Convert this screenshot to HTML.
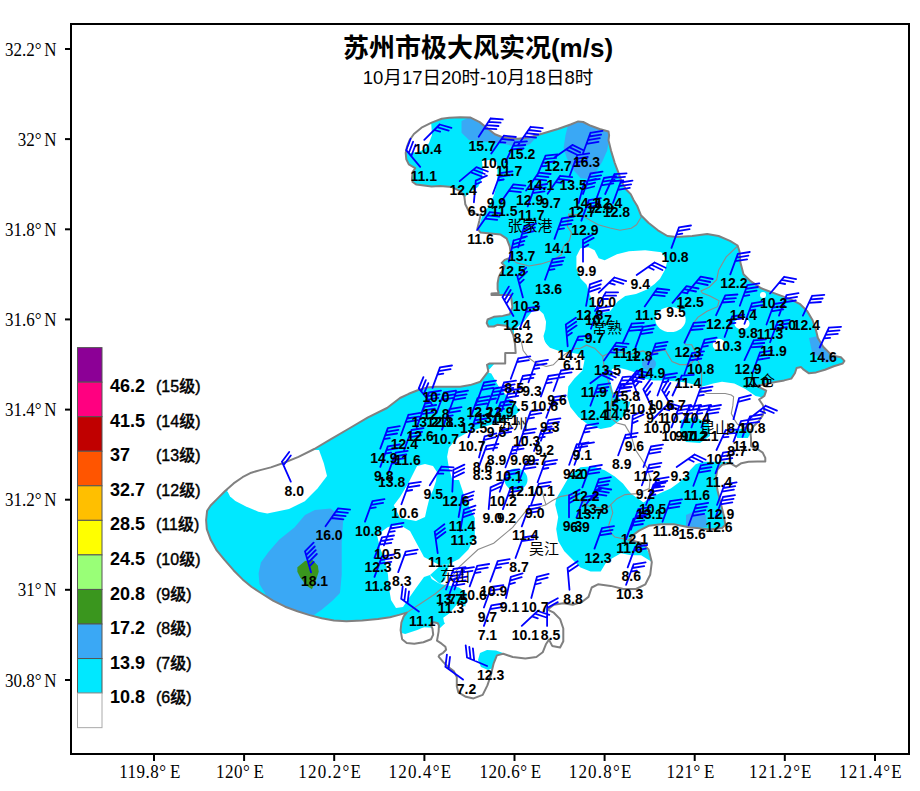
<!DOCTYPE html>
<html><head><meta charset="utf-8"><title>苏州市极大风实况</title>
<style>
html,body{margin:0;padding:0;background:#fff;width:920px;height:791px;overflow:hidden}
svg{display:block}
.ax{font-family:"Liberation Serif","Noto Serif CJK SC",serif;font-size:17px;fill:#000;word-spacing:-1.5px}
.axx{letter-spacing:0.5px}
.t1{font-family:"Liberation Sans","Noto Sans CJK SC",sans-serif;font-size:26px;font-weight:bold;fill:#000}
.t2{font-family:"Liberation Sans","Noto Sans CJK SC",sans-serif;font-size:18.5px;fill:#000}
.lg{font-family:"Liberation Sans","Noto Sans CJK SC",sans-serif;font-size:18px;font-weight:bold;fill:#000}
.lg2{font-family:"Liberation Sans","Noto Sans CJK SC",sans-serif;font-size:16px;font-weight:500;fill:#000;stroke:#000;stroke-width:0.4px}
.v{font-family:"Liberation Sans",sans-serif;font-size:14px;font-weight:bold;fill:#000}
.cn{font-family:"Liberation Sans","Noto Sans CJK SC",sans-serif;font-size:15px;font-weight:400;fill:#000}
</style></head><body>
<svg width="920" height="791" viewBox="0 0 920 791"><defs><clipPath id="cl"><path d="M441.7,118.8 L449.3,117.8 L460.0,117.3 L470.6,117.6 L479.7,122.1 L487.3,128.2 L494.9,134.3 L502.5,137.3 L510.0,138.0 L517.7,138.8 L525.2,138.0 L532.6,136.5 L545.3,132.8 L557.9,129.0 L570.6,124.5 L578.2,121.4 L583.2,122.0 L590.8,125.8 L599.6,129.0 L608.5,131.5 L609.1,135.3 L608.5,140.3 L611.0,150.5 L614.8,163.1 L618.6,173.2 L621.6,181.9 L626.1,189.5 L630.7,194.1 L633.7,200.2 L637.1,205.7 L640.9,215.2 L648.4,222.8 L657.9,230.3 L667.4,236.0 L676.9,237.0 L692.1,236.0 L707.2,234.1 L718.6,236.0 L730.0,240.8 L737.6,245.5 L739.5,251.2 L740.4,262.6 L743.5,274.2 L750.6,281.2 L761.2,288.3 L775.4,293.6 L789.6,298.9 L800.2,304.2 L807.3,311.3 L812.6,320.2 L816.1,330.8 L817.9,337.9 L823.2,346.7 L832.0,355.6 L840.9,357.3 L844.4,360.9 L842.7,363.5 L833.8,366.2 L825.0,369.7 L816.1,372.4 L809.0,373.3 L803.7,369.7 L801.1,367.1 L796.6,368.0 L794.9,373.3 L791.3,378.6 L784.2,380.4 L775.4,382.1 L766.5,383.9 L757.7,385.7 L759.1,387.1 L766.2,390.6 L764.4,395.9 L759.1,399.5 L762.7,404.8 L764.4,410.1 L762.7,415.4 L759.1,420.7 L753.8,426.0 L750.3,431.3 L751.0,438.4 L751.0,446.0 L757.3,449.0 L762.7,452.6 L765.3,457.9 L765.3,461.4 L757.3,461.4 L748.5,461.8 L741.4,463.2 L736.1,466.7 L730.1,463.2 L722.2,464.8 L717.4,469.6 L715.9,477.5 L717.4,490.1 L720.6,502.7 L723.8,515.4 L725.3,524.9 L722.2,528.0 L709.5,529.6 L696.9,528.0 L690.0,527.4 L673.9,524.2 L661.2,524.2 L648.6,525.8 L639.1,530.6 L632.8,535.3 L629.6,540.0 L642.3,543.2 L648.6,549.5 L651.8,562.2 L650.2,574.8 L645.4,584.3 L636.0,589.0 L623.3,589.0 L610.7,585.9 L598.0,584.3 L591.7,587.5 L588.5,596.9 L582.2,601.7 L572.7,604.8 L563.3,603.3 L553.8,604.8 L547.5,609.6 L553.8,612.7 L560.1,619.1 L563.3,628.5 L563.3,641.2 L560.1,647.5 L552.2,645.9 L549.0,639.6 L545.9,644.3 L542.7,652.3 L536.4,657.0 L525.3,658.6 L512.7,657.0 L503.2,653.8 L496.9,655.4 L493.7,663.3 L490.6,676.0 L487.4,685.4 L482.7,694.9 L473.5,698.4 L465.9,696.8 L458.3,692.3 L456.8,686.2 L456.8,677.1 L453.7,671.0 L447.7,666.5 L443.1,661.9 L438.6,656.6 L439.3,655.1 L443.1,652.8 L446.1,649.8 L445.4,646.8 L441.6,643.7 L437.0,640.7 L438.6,631.6 L438.9,625.5 L437.8,623.2 L434.0,622.2 L431.0,623.2 L431.0,625.5 L432.5,628.6 L433.2,634.6 L431.0,639.2 L423.4,642.2 L414.3,643.7 L406.7,643.0 L402.1,639.2 L400.6,630.1 L401.4,622.5 L403.7,616.4 L406.7,612.6 L399.1,614.9 L390.0,617.2 L378.0,619.1 L362.2,620.6 L346.4,621.3 L333.9,620.4 L321.7,618.2 L309.6,615.1 L297.4,611.3 L285.2,606.7 L273.0,600.7 L260.9,593.0 L251.7,587.0 L242.6,579.4 L233.5,570.2 L224.3,559.6 L216.7,550.4 L210.7,539.8 L206.8,529.1 L206.1,520.0 L207.1,510.8 L210.6,505.5 L217.7,498.4 L224.8,491.3 L233.6,483.4 L242.5,477.2 L251.3,472.7 L260.2,470.1 L270.8,467.4 L282.7,463.3 L298.5,456.9 L314.3,449.0 L330.1,439.6 L349.1,428.5 L368.0,417.4 L387.0,408.0 L400.0,398.0 L408.8,393.8 L417.7,390.3 L426.5,387.6 L435.4,386.7 L449.6,386.7 L460.2,386.7 L470.1,385.1 L480.4,381.7 L488.3,371.3 L487.0,364.8 L489.6,363.5 L505.2,363.5 L505.2,353.0 L515.7,353.0 L515.0,343.9 L513.3,335.4 L510.6,329.2 L506.2,325.7 L497.3,324.8 L493.8,326.5 L488.5,326.5 L486.7,323.0 L487.6,319.5 L493.8,316.8 L502.7,315.9 L509.7,314.2 L512.4,307.1 L511.5,300.0 L510.8,295.0 L491.5,295.0 L491.5,293.5 L498.7,293.0 L497.6,289.2 L497.6,283.2 L498.7,277.1 L500.7,273.0 L503.7,269.0 L504.7,266.0 L501.7,262.9 L504.7,259.9 L509.8,257.9 L510.8,254.8 L509.8,246.7 L506.7,238.7 L500.7,234.6 L490.6,233.6 L480.5,232.6 L477.4,228.5 L479.4,220.5 L480.5,215.4 L474.4,213.4 L468.3,210.3 L465.3,204.3 L464.3,196.2 L460.2,191.1 L452.1,187.1 L440.0,186.1 L431.6,186.5 L416.4,184.6 L412.6,182.0 L412.0,178.3 L412.6,172.0 L415.2,168.2 L408.8,164.4 L406.3,159.3 L405.7,153.0 L407.0,146.7 L409.5,140.3 L413.9,134.0 L421.5,127.7 L431.6,122.6 Z"/></clipPath></defs>
<g clip-path="url(#cl)">
<rect x="200" y="100" width="660" height="620" fill="#00e8ff"/>
<polygon points="431.0,121.0 432.0,135.0 429.0,143.0 425.0,149.0 418.0,152.0 410.0,153.0 403.0,150.0 403.0,135.0 415.0,124.0" fill="#fff"/>
<polygon points="482.0,161.0 489.0,160.0 497.0,162.0 497.5,174.0 496.5,186.0 494.0,195.0 490.0,204.0 486.0,210.0 482.0,216.0 479.5,225.0 478.0,234.0 465.0,234.0 462.0,200.0 470.0,192.0 478.0,187.0 481.0,181.0 483.0,172.0" fill="#fff"/>
<polygon points="580.5,248.2 588.5,247.2 594.6,250.2 598.7,258.3 604.7,260.3 616.9,254.3 629.0,251.2 645.2,250.2 661.4,252.2 667.4,260.3 665.4,269.0 660.0,278.7 654.6,284.0 647.0,289.6 636.0,294.0 625.2,296.1 617.6,301.5 614.3,306.0 610.0,311.3 604.0,312.5 597.0,311.0 594.6,306.9 590.6,296.7 586.5,284.6 580.5,278.5 576.4,268.4 576.4,256.3" fill="#fff"/>
<polygon points="533.0,310.0 538.3,309.3 543.5,313.9 546.1,321.7 545.4,329.6 543.5,336.1 544.8,342.6 550.0,347.8 559.1,351.1 567.0,352.4 567.0,360.0 530.0,360.0 514.0,345.0 514.0,330.0 523.9,321.7 529.1,315.2" fill="#fff"/>
<polygon points="395.0,626.0 440.0,628.0 470.0,600.0 500.0,600.0 500.0,720.0 395.0,720.0" fill="#fff"/>
<polygon points="487.0,372.0 505.0,352.0 516.0,340.0 530.0,338.0 544.0,340.0 550.0,350.0 566.0,352.0 580.5,354.3 584.5,360.3 582.5,370.5 574.4,378.5 568.3,386.6 567.3,396.7 570.3,406.9 578.4,417.0 588.5,425.1 600.7,429.1 610.8,427.1 618.9,421.0 624.9,415.0 629.0,406.9 631.0,398.8 629.0,390.7 633.0,382.6 641.1,378.5 653.3,380.6 665.4,380.6 677.5,381.6 685.6,382.6 693.7,384.6 700.7,387.1 713.1,383.5 722.0,381.8 734.3,383.5 745.0,388.8 755.6,395.9 775.0,400.0 775.0,720.0 460.0,720.0 457.0,640.0 444.0,622.0 440.0,600.0 430.0,575.0 424.0,577.0 416.0,588.0 409.0,598.0 403.0,607.0 396.0,608.0 391.0,600.0 389.0,588.0 388.0,575.0 385.0,560.0 380.0,548.0 377.0,535.0 388.0,527.0 400.0,525.0 410.0,531.0 417.0,544.0 424.0,557.0 440.0,565.3 449.5,563.8 459.0,559.0 468.4,549.5 474.8,536.9 474.8,517.9 465.3,499.0 459.0,480.0 452.4,480.0 448.8,467.4 447.1,456.8 448.8,448.0 455.9,439.1 468.3,432.0 484.2,426.7 501.9,421.4 514.3,416.1 519.6,410.8 516.1,405.5 507.3,396.6 498.4,386.0 491.3,373.6" fill="#fff"/>
<polygon points="612.0,369.0 618.0,367.5 626.0,369.5 634.0,372.0 641.0,378.0 645.0,384.0 636.0,400.0 628.0,402.0 620.0,399.0 613.0,392.0 610.0,380.0" fill="#fff"/>
<polygon points="227.4,491.3 230.1,496.6 235.4,501.1 246.0,506.4 258.4,511.7 267.3,513.5 289.0,509.1 304.8,501.2 317.5,488.5 327.0,475.9 323.8,463.3 319.0,450.0 300.0,450.0 230.0,480.0" fill="#fff"/>
<polygon points="417.0,466.0 425.0,464.0 433.0,466.0 437.0,472.0 436.0,481.0 433.0,490.0 429.5,498.0 427.0,508.0 425.0,517.0 416.0,521.1 400.1,518.0 393.8,505.3 400.0,497.0 409.0,482.0" fill="#fff"/>
<ellipse cx="670.5" cy="319.6" rx="15.2" ry="12.5" fill="#fff"/>
<ellipse cx="742" cy="323.5" rx="7.6" ry="6" fill="#fff"/>
<ellipse cx="719" cy="344.8" rx="6.3" ry="6" fill="#fff"/>
<ellipse cx="763" cy="295" rx="3" ry="3" fill="#fff"/>
<polygon points="570.3,474.4 580.5,467.3 592.6,466.3 604.7,470.3 614.8,476.4 622.9,483.5 628.0,490.0 631.5,494.0 639.0,499.3 643.5,502.6 651.0,497.2 661.0,492.8 670.7,488.5 678.3,483.0 686.0,476.5 690.2,470.0 695.7,464.3 703.2,461.7 716.0,461.7 730.0,462.0 730.0,535.0 660.0,535.0 645.0,545.0 652.0,560.0 651.2,561.4 641.1,555.3 631.0,555.3 620.9,553.3 606.7,561.4 600.7,571.5 590.6,571.5 580.5,567.4 574.4,561.4 564.3,551.2 558.2,541.1 556.2,529.0 558.2,516.9 555.2,504.7 556.2,498.7 562.2,488.5" fill="#00e8ff"/>
<polygon points="681.0,420.0 695.0,417.0 709.0,424.0 710.0,436.0 700.0,443.0 686.0,442.0 680.0,432.0" fill="#00e8ff"/>
<polygon points="735.0,430.0 745.0,428.0 751.0,432.0 748.0,438.0 737.0,438.0" fill="#00e8ff"/>
<polygon points="478.0,660.0 480.0,653.0 487.0,650.0 496.0,650.5 503.0,653.0 500.0,660.0 496.0,667.0 488.0,670.0 481.0,667.0" fill="#00e8ff"/>
<polygon points="440.0,584.0 459.0,587.5 466.9,593.8 465.3,606.4 458.3,602.8 449.2,613.4 438.6,621.0 427.9,625.5 417.3,630.1 405.2,633.9 398.0,632.0 396.0,615.0 405.2,608.0 415.8,605.0 421.9,598.2 424.1,589.1 430.0,578.0" fill="#00e8ff"/>
<polygon points="430.0,575.0 440.0,566.0 449.5,563.8 445.0,580.0 440.0,584.0" fill="#00e8ff"/>
<ellipse cx="516" cy="479.5" rx="11.5" ry="11" fill="#00e8ff"/>
<polygon points="461.5,121.0 470.0,117.0 490.0,128.0 505.0,137.0 520.0,139.0 535.2,136.0 535.2,138.4 530.1,144.1 520.0,148.0 502.5,143.4 490.0,142.0 469.0,140.0 461.5,132.8" fill="#3aa8f5"/>
<polygon points="568.0,125.2 580.0,120.0 600.0,128.0 608.5,132.0 608.5,142.9 607.2,150.5 602.2,161.8 595.9,172.0 588.3,178.9 580.7,178.3 573.1,169.4 566.8,158.0 563.6,147.9 565.5,135.3" fill="#3aa8f5"/>
<polygon points="330.6,508.4 343.3,517.9 341.7,543.2 341.7,574.8 340.0,593.0 332.4,600.7 321.7,609.8 312.6,615.9 300.0,620.0 267.0,597.0 264.0,591.5 259.4,583.9 258.6,573.3 260.9,562.6 268.5,552.0 279.1,539.8 294.4,527.6 305.0,515.0 314.8,510.0" fill="#3aa8f5"/>
<polygon points="809.0,338.0 818.0,336.0 830.0,350.0 835.0,360.0 826.0,363.0 812.0,352.0" fill="#3aa8f5"/>
<polygon points="686.0,515.0 695.0,511.0 706.0,515.0 707.0,527.0 686.0,528.0" fill="#3aa8f5"/>
<ellipse cx="649" cy="364" rx="7" ry="6.5" fill="#3aa8f5"/>
<polygon points="297.4,567.2 305.0,561.1 312.6,559.9 317.9,565.7 318.7,571.7 315.7,580.9 311.9,589.2 306.5,585.4 300.4,577.8 297.4,571.7" fill="#3a961e"/>
</g>
<polyline points="509.8,257.9 516.9,262.9 529.0,266.0 541.1,263.9 553.3,259.9 561.4,254.8 563.4,246.7 569.4,240.7 571.5,232.6 567.4,226.5 568.7,214.0 576.0,214.5 583.5,216.0 590.4,220.4 598.3,224.8 610.0,228.0 620.0,230.3 631.3,228.3 636.5,224.8 641.5,216.5" fill="none" stroke="#8c8c8c" stroke-width="1.1"/>
<polyline points="737.6,246.0 726.2,256.9 718.6,270.2 716.7,279.7 709.1,287.2 701.0,291.0 702.4,293.0 710.0,296.1 719.1,300.7 717.6,306.7 707.0,311.3 697.8,317.4 693.3,323.5 690.2,332.6 684.1,341.7 685.7,344.8 691.7,344.8 694.8,350.9 696.3,357.0 691.7,363.0 685.7,364.6 679.6,364.6 672.0,361.5 667.4,353.9 665.9,350.9 662.8,350.1 655.2,352.4 649.1,353.9 643.0,350.9 631.0,354.3 622.9,352.2 612.8,352.2 606.7,354.3 602.7,356.3 594.6,348.2 586.5,345.2 580.5,348.2 574.5,348.8 567.4,352.4 560.4,357.7 553.3,364.8 546.2,366.5 535.6,363.0 528.5,357.7 523.2,350.6 521.4,342.0 516.5,338.0" fill="none" stroke="#8c8c8c" stroke-width="1.1"/>
<polyline points="696.3,357.0 701.6,369.1 701.6,381.3 700.9,390.4 707.0,393.5 716.0,393.5 725.2,393.5 731.3,395.0 733.6,396.7 732.8,405.9 731.3,413.5 734.4,419.6 737.4,424.1 745.0,428.0 752.0,430.0" fill="none" stroke="#8c8c8c" stroke-width="1.1"/>
<polyline points="602.7,356.3 604.7,370.5 608.8,382.6 612.8,394.7 610.8,406.9 609.8,417.0 616.9,423.0 625.0,425.1 631.0,435.2 635.1,449.3 641.0,458.2 647.2,468.3 650.2,478.4 649.2,488.5 637.0,493.6 625.0,494.6 616.9,498.7 610.8,504.7 612.8,512.8 610.8,518.9 608.8,525.0 610.8,533.0 614.8,537.1 625.0,539.1 631.0,541.1" fill="none" stroke="#8c8c8c" stroke-width="1.1"/>
<polyline points="610.8,504.7 606.7,508.8 590.6,506.7 580.5,500.7 570.3,494.6 560.2,496.6 552.1,500.7 546.0,504.7 544.0,498.7 542.0,490.6" fill="none" stroke="#8c8c8c" stroke-width="1.1"/>
<polyline points="406.7,612.6 420.0,604.0 435.0,594.0 447.0,584.0 459.0,567.0 478.0,549.5 493.7,543.2 512.7,527.4 525.3,511.6 544.3,505.3 546.0,504.7" fill="none" stroke="#8c8c8c" stroke-width="1.1"/>
<path d="M441.7,118.8 L449.3,117.8 L460.0,117.3 L470.6,117.6 L479.7,122.1 L487.3,128.2 L494.9,134.3 L502.5,137.3 L510.0,138.0 L517.7,138.8 L525.2,138.0 L532.6,136.5 L545.3,132.8 L557.9,129.0 L570.6,124.5 L578.2,121.4 L583.2,122.0 L590.8,125.8 L599.6,129.0 L608.5,131.5 L609.1,135.3 L608.5,140.3 L611.0,150.5 L614.8,163.1 L618.6,173.2 L621.6,181.9 L626.1,189.5 L630.7,194.1 L633.7,200.2 L637.1,205.7 L640.9,215.2 L648.4,222.8 L657.9,230.3 L667.4,236.0 L676.9,237.0 L692.1,236.0 L707.2,234.1 L718.6,236.0 L730.0,240.8 L737.6,245.5 L739.5,251.2 L740.4,262.6 L743.5,274.2 L750.6,281.2 L761.2,288.3 L775.4,293.6 L789.6,298.9 L800.2,304.2 L807.3,311.3 L812.6,320.2 L816.1,330.8 L817.9,337.9 L823.2,346.7 L832.0,355.6 L840.9,357.3 L844.4,360.9 L842.7,363.5 L833.8,366.2 L825.0,369.7 L816.1,372.4 L809.0,373.3 L803.7,369.7 L801.1,367.1 L796.6,368.0 L794.9,373.3 L791.3,378.6 L784.2,380.4 L775.4,382.1 L766.5,383.9 L757.7,385.7 L759.1,387.1 L766.2,390.6 L764.4,395.9 L759.1,399.5 L762.7,404.8 L764.4,410.1 L762.7,415.4 L759.1,420.7 L753.8,426.0 L750.3,431.3 L751.0,438.4 L751.0,446.0 L757.3,449.0 L762.7,452.6 L765.3,457.9 L765.3,461.4 L757.3,461.4 L748.5,461.8 L741.4,463.2 L736.1,466.7 L730.1,463.2 L722.2,464.8 L717.4,469.6 L715.9,477.5 L717.4,490.1 L720.6,502.7 L723.8,515.4 L725.3,524.9 L722.2,528.0 L709.5,529.6 L696.9,528.0 L690.0,527.4 L673.9,524.2 L661.2,524.2 L648.6,525.8 L639.1,530.6 L632.8,535.3 L629.6,540.0 L642.3,543.2 L648.6,549.5 L651.8,562.2 L650.2,574.8 L645.4,584.3 L636.0,589.0 L623.3,589.0 L610.7,585.9 L598.0,584.3 L591.7,587.5 L588.5,596.9 L582.2,601.7 L572.7,604.8 L563.3,603.3 L553.8,604.8 L547.5,609.6 L553.8,612.7 L560.1,619.1 L563.3,628.5 L563.3,641.2 L560.1,647.5 L552.2,645.9 L549.0,639.6 L545.9,644.3 L542.7,652.3 L536.4,657.0 L525.3,658.6 L512.7,657.0 L503.2,653.8 L496.9,655.4 L493.7,663.3 L490.6,676.0 L487.4,685.4 L482.7,694.9 L473.5,698.4 L465.9,696.8 L458.3,692.3 L456.8,686.2 L456.8,677.1 L453.7,671.0 L447.7,666.5 L443.1,661.9 L438.6,656.6 L439.3,655.1 L443.1,652.8 L446.1,649.8 L445.4,646.8 L441.6,643.7 L437.0,640.7 L438.6,631.6 L438.9,625.5 L437.8,623.2 L434.0,622.2 L431.0,623.2 L431.0,625.5 L432.5,628.6 L433.2,634.6 L431.0,639.2 L423.4,642.2 L414.3,643.7 L406.7,643.0 L402.1,639.2 L400.6,630.1 L401.4,622.5 L403.7,616.4 L406.7,612.6 L399.1,614.9 L390.0,617.2 L378.0,619.1 L362.2,620.6 L346.4,621.3 L333.9,620.4 L321.7,618.2 L309.6,615.1 L297.4,611.3 L285.2,606.7 L273.0,600.7 L260.9,593.0 L251.7,587.0 L242.6,579.4 L233.5,570.2 L224.3,559.6 L216.7,550.4 L210.7,539.8 L206.8,529.1 L206.1,520.0 L207.1,510.8 L210.6,505.5 L217.7,498.4 L224.8,491.3 L233.6,483.4 L242.5,477.2 L251.3,472.7 L260.2,470.1 L270.8,467.4 L282.7,463.3 L298.5,456.9 L314.3,449.0 L330.1,439.6 L349.1,428.5 L368.0,417.4 L387.0,408.0 L400.0,398.0 L408.8,393.8 L417.7,390.3 L426.5,387.6 L435.4,386.7 L449.6,386.7 L460.2,386.7 L470.1,385.1 L480.4,381.7 L488.3,371.3 L487.0,364.8 L489.6,363.5 L505.2,363.5 L505.2,353.0 L515.7,353.0 L515.0,343.9 L513.3,335.4 L510.6,329.2 L506.2,325.7 L497.3,324.8 L493.8,326.5 L488.5,326.5 L486.7,323.0 L487.6,319.5 L493.8,316.8 L502.7,315.9 L509.7,314.2 L512.4,307.1 L511.5,300.0 L510.8,295.0 L491.5,295.0 L491.5,293.5 L498.7,293.0 L497.6,289.2 L497.6,283.2 L498.7,277.1 L500.7,273.0 L503.7,269.0 L504.7,266.0 L501.7,262.9 L504.7,259.9 L509.8,257.9 L510.8,254.8 L509.8,246.7 L506.7,238.7 L500.7,234.6 L490.6,233.6 L480.5,232.6 L477.4,228.5 L479.4,220.5 L480.5,215.4 L474.4,213.4 L468.3,210.3 L465.3,204.3 L464.3,196.2 L460.2,191.1 L452.1,187.1 L440.0,186.1 L431.6,186.5 L416.4,184.6 L412.6,182.0 L412.0,178.3 L412.6,172.0 L415.2,168.2 L408.8,164.4 L406.3,159.3 L405.7,153.0 L407.0,146.7 L409.5,140.3 L413.9,134.0 L421.5,127.7 L431.6,122.6 Z" fill="none" stroke="#808080" stroke-width="2" stroke-linejoin="round"/>
<path d="M424.3,139.9L439.7,124.5M439.7,124.5l11.7,3.4M437.0,127.2l11.7,3.4M434.2,130.0l5.9,1.7M478.7,136.8L490.6,118.5M490.6,118.5l12.2,0.9M488.4,121.8l12.2,0.9M486.3,125.1l12.2,0.9M484.2,128.3l12.2,0.9M518.2,144.7L530.7,126.8M530.7,126.8l12.1,1.3M528.5,130.0l12.1,1.3M526.2,133.2l12.1,1.3M524.0,136.4l12.1,1.3M491.3,153.6L503.8,135.7M503.8,135.7l12.1,1.3M501.6,138.9l12.1,1.3M499.3,142.1l6.1,0.6M420.2,166.9L406.2,150.2M406.2,150.2l4.4,-11.4M408.7,153.2l4.4,-11.4M411.2,156.2l4.4,-11.4M505.5,162.1L514.7,142.3M514.7,142.3l12.2,-0.9M513.1,145.9l12.2,-0.9M511.4,149.4l12.2,-0.9M554.5,157.4L572.4,144.9M572.4,144.9l11.0,5.3M569.2,147.1l11.0,5.3M566.0,149.4l11.0,5.3M583.0,153.3L590.5,132.8M590.5,132.8l12.0,-1.9M589.1,136.5l12.0,-1.9M587.8,140.1l12.0,-1.9M586.5,143.8l12.0,-1.9M459.7,181.1L476.4,167.1M476.4,167.1l11.4,4.4M473.4,169.6l11.4,4.4M470.4,172.1l11.4,4.4M537.1,175.7L545.6,155.6M545.6,155.6l12.1,-1.3M544.1,159.2l12.1,-1.3M542.6,162.8l12.1,-1.3M541.0,166.4l6.1,-0.6M569.7,175.7L577.2,155.2M577.2,155.2l12.0,-1.9M575.8,158.9l12.0,-1.9M574.5,162.5l12.0,-1.9M573.2,166.2l6.0,-1.0M492.9,193.7L500.4,173.2M500.4,173.2l12.0,-1.9M499.0,176.9l12.0,-1.9M497.7,180.5l6.0,-1.0M526.1,190.6L538.6,172.7M538.6,172.7l12.1,1.3M536.4,175.9l12.1,1.3M534.1,179.1l12.1,1.3M547.6,193.7L560.1,175.8M560.1,175.8l12.1,1.3M557.9,179.0l12.1,1.3M555.6,182.2l6.1,0.6M473.9,202.3L475.8,180.6M475.8,180.6l11.1,-5.0M475.5,184.5l5.6,-2.5M500.8,202.3L513.3,184.4M513.3,184.4l12.1,1.3M511.1,187.6l12.1,1.3M508.8,190.8l12.1,1.3M527.7,206.4L535.2,185.9M535.2,185.9l12.0,-1.9M533.8,189.6l12.0,-1.9M532.5,193.2l12.0,-1.9M583.0,194.0L590.5,173.5M590.5,173.5l12.0,-1.9M589.1,177.2l12.0,-1.9M587.8,180.8l12.0,-1.9M586.5,184.5l6.0,-1.0M605.2,194.0L614.4,174.2M614.4,174.2l12.2,-0.9M612.8,177.8l12.2,-0.9M611.1,181.3l12.2,-0.9M578.7,203.0L584.3,181.9M584.3,181.9l11.8,-3.0M583.3,185.7l11.8,-3.0M582.3,189.5l11.8,-3.0M596.5,198.5L604.0,178.0M604.0,178.0l12.0,-1.9M602.6,181.7l12.0,-1.9M601.3,185.3l12.0,-1.9M613.0,203.0L620.5,182.5M620.5,182.5l12.0,-1.9M619.1,186.2l12.0,-1.9M617.8,189.8l12.0,-1.9M477.1,230.1L489.6,212.2M489.6,212.2l12.1,1.3M487.4,215.4l12.1,1.3M485.1,218.6l12.1,1.3M581.4,220.6L588.9,200.1M588.9,200.1l12.0,-1.9M587.5,203.8l12.0,-1.9M586.2,207.4l12.0,-1.9M554.5,238.9L562.0,218.4M562.0,218.4l12.0,-1.9M560.6,222.1l12.0,-1.9M559.3,225.7l12.0,-1.9M558.0,229.4l6.0,-1.0M518.2,247.4L524.2,226.4M524.2,226.4l11.9,-2.7M523.1,230.2l11.9,-2.7M522.1,233.9l11.9,-2.7M521.0,237.7l5.9,-1.4M583.0,261.7L583.0,239.9M583.0,239.9l10.7,-5.9M583.0,243.8l10.7,-5.9M583.0,247.7l5.3,-3.0M508.7,261.7L513.6,240.5M513.6,240.5l11.7,-3.4M512.7,244.3l11.7,-3.4M511.8,248.1l11.7,-3.4M545.0,279.7L552.5,259.2M552.5,259.2l12.0,-1.9M551.1,262.9l12.0,-1.9M549.8,266.5l12.0,-1.9M548.5,270.2l6.0,-1.0M636.7,275.0L654.6,262.5M654.6,262.5l11.0,5.3M651.4,264.7l11.0,5.3M648.2,267.0l5.5,2.7M522.9,297.4L517.3,276.3M517.3,276.3l8.8,-8.5M518.3,280.1l8.8,-8.5M519.3,283.9l4.4,-4.2M598.8,292.6L614.5,277.5M614.5,277.5l11.7,3.6M611.7,280.2l11.7,3.6M608.9,282.9l5.8,1.8M513.4,316.0L502.5,297.1M502.5,297.1l6.3,-10.5M504.4,300.5l6.3,-10.5M506.4,303.9l6.3,-10.5M586.1,305.9L589.9,284.4M589.9,284.4l11.5,-4.0M589.2,288.3l11.5,-4.0M588.5,292.1l11.5,-4.0M595.0,311.0L605.9,292.1M605.9,292.1l12.2,0.2M603.9,295.5l12.2,0.2M602.0,298.9l6.1,0.1M519.8,328.7L527.3,308.2M527.3,308.2l12.0,-1.9M525.9,311.9l12.0,-1.9M590.9,328.7L598.4,308.2M598.4,308.2l12.0,-1.9M597.0,311.9l12.0,-1.9M595.7,315.5l6.0,-1.0M671.5,247.9L679.0,227.4M679.0,227.4l12.0,-1.9M677.6,231.1l12.0,-1.9M676.3,234.7l6.0,-1.0M686.7,293.4L700.7,276.7M700.7,276.7l12.0,2.3M698.2,279.7l12.0,2.3M695.7,282.7l12.0,2.3M644.7,306.4L657.2,288.5M657.2,288.5l12.1,1.3M655.0,291.7l12.1,1.3M652.7,294.9l12.1,1.3M672.5,302.9L686.5,286.2M686.5,286.2l12.0,2.3M684.0,289.2l12.0,2.3M681.5,292.2l6.0,1.2M730.3,274.4L737.8,253.9M737.8,253.9l12.0,-1.9M736.4,257.6l12.0,-1.9M735.1,261.2l12.0,-1.9M739.8,305.7L747.3,285.2M747.3,285.2l12.0,-1.9M745.9,288.9l12.0,-1.9M744.6,292.5l12.0,-1.9M743.3,296.2l6.0,-1.0M716.1,315.2L725.3,295.4M725.3,295.4l12.2,-0.9M723.7,299.0l12.2,-0.9M722.0,302.5l12.2,-0.9M744.5,323.8L752.0,303.3M752.0,303.3l12.0,-1.9M750.6,307.0l12.0,-1.9M749.3,310.6l6.0,-1.0M766.5,324.5L774.0,304.0M774.0,304.0l12.0,-1.9M772.6,307.7l12.0,-1.9M771.3,311.3l12.0,-1.9M724.6,337.0L732.1,316.5M732.1,316.5l12.0,-1.9M730.7,320.2l12.0,-1.9M729.4,323.8l6.0,-1.0M770.1,293.5L784.1,276.8M784.1,276.8l12.0,2.3M781.6,279.8l12.0,2.3M779.1,282.8l6.0,1.2M779.0,315.6L786.5,295.1M786.5,295.1l12.0,-1.9M785.1,298.8l12.0,-1.9M783.8,302.4l12.0,-1.9M802.9,315.6L812.1,295.8M812.1,295.8l12.2,-0.9M810.5,299.4l12.2,-0.9M808.8,302.9l12.2,-0.9M770.1,342.2L777.6,321.7M777.6,321.7l12.0,-1.9M776.2,325.4l12.0,-1.9M774.9,329.0l12.0,-1.9M819.7,347.5L828.9,327.7M828.9,327.7l12.2,-0.9M827.3,331.3l12.2,-0.9M825.6,334.8l12.2,-0.9M824.0,338.3l6.1,-0.4M744.5,360.1L753.7,340.3M753.7,340.3l12.2,-0.9M752.1,343.9l12.2,-0.9M750.4,347.4l12.2,-0.9M752.5,373.0L760.0,352.5M760.0,352.5l12.0,-1.9M758.6,356.2l12.0,-1.9M757.3,359.8l12.0,-1.9M697.1,360.1L704.6,339.6M704.6,339.6l12.0,-1.9M703.2,343.3l12.0,-1.9M701.9,346.9l6.0,-1.0M684.5,342.7L693.7,322.9M693.7,322.9l12.2,-0.9M692.1,326.5l12.2,-0.9M690.4,330.0l12.2,-0.9M648.1,364.2L655.6,343.7M655.6,343.7l12.0,-1.9M654.2,347.4l12.0,-1.9M652.9,351.0l12.0,-1.9M651.6,354.7l6.0,-1.0M635.5,347.4L643.0,326.9M643.0,326.9l12.0,-1.9M641.6,330.6l12.0,-1.9M640.3,334.2l12.0,-1.9M684.5,373.7L692.0,353.2M692.0,353.2l12.0,-1.9M690.6,356.9l12.0,-1.9M689.3,360.5l12.0,-1.9M622.5,343.5L631.7,323.7M631.7,323.7l12.2,-0.9M630.1,327.3l12.2,-0.9M628.4,330.8l12.2,-0.9M567.7,346.3L565.8,324.6M565.8,324.6l10.1,-6.8M566.1,328.5l10.1,-6.8M566.5,332.4l10.1,-6.8M566.8,336.2l5.1,-3.4M569.2,356.4L578.4,336.6M578.4,336.6l12.2,-0.9M576.8,340.2l6.1,-0.4M604.0,360.5L616.5,342.6M616.5,342.6l12.1,1.3M614.3,345.8l12.1,1.3M612.0,349.0l12.1,1.3M609.8,352.2l6.1,0.6M590.4,383.3L607.8,370.2M607.8,370.2l11.1,5.0M604.7,372.5l11.1,5.0M601.6,374.9l11.1,5.0M623.0,387.4L637.0,370.7M637.0,370.7l12.0,2.3M634.5,373.7l12.0,2.3M632.0,376.7l12.0,2.3M629.5,379.7l12.0,2.3M613.5,396.9L622.7,377.1M622.7,377.1l12.2,-0.9M621.1,380.7l12.2,-0.9M619.4,384.2l12.2,-0.9M617.8,387.7l12.2,-0.9M590.4,405.7L597.9,385.2M597.9,385.2l12.0,-1.9M596.5,388.9l12.0,-1.9M595.2,392.5l12.0,-1.9M613.5,405.7L621.0,385.2M621.0,385.2l12.0,-1.9M619.6,388.9l12.0,-1.9M618.3,392.5l12.0,-1.9M617.0,396.2l6.0,-1.0M639.5,400.0L632.0,379.5M632.0,379.5l8.0,-9.2M633.4,383.2l8.0,-9.2M634.7,386.8l4.0,-4.6M657.5,395.5L665.0,375.0M665.0,375.0l12.0,-1.9M663.6,378.7l12.0,-1.9M662.3,382.3l6.0,-1.0M672.5,395.5L681.7,375.7M681.7,375.7l12.2,-0.9M680.1,379.3l6.1,-0.4M673.0,409.0L662.1,390.1M662.1,390.1l6.3,-10.5M664.1,393.5l6.3,-10.5M666.0,396.9l3.1,-5.2M693.0,409.0L700.5,388.5M700.5,388.5l12.0,-1.9M699.1,392.2l12.0,-1.9M697.8,395.8l6.0,-1.0M652.5,409.0L643.3,389.2M643.3,389.2l7.2,-9.9M644.9,392.8l7.2,-9.9M646.6,396.3l3.6,-4.9M653.5,418.5L668.9,403.1M668.9,403.1l11.7,3.4M666.2,405.8l11.7,3.4M663.4,408.6l5.9,1.7M671.5,427.4L679.0,406.9M679.0,406.9l12.0,-1.9M677.6,410.6l12.0,-1.9M676.3,414.2l6.0,-1.0M681.5,427.4L689.0,406.9M689.0,406.9l12.0,-1.9M687.6,410.6l12.0,-1.9M686.3,414.2l6.0,-1.0M691.5,427.4L699.0,406.9M699.0,406.9l12.0,-1.9M697.6,410.6l12.0,-1.9M696.3,414.2l6.0,-1.0M701.5,427.4L709.0,406.9M709.0,406.9l12.0,-1.9M707.6,410.6l12.0,-1.9M706.3,414.2l12.0,-1.9M733.5,419.2L739.1,398.1M739.1,398.1l11.8,-3.0M738.1,401.9l11.8,-3.0M748.5,419.2L765.7,405.8M765.7,405.8l11.2,4.8M762.6,408.2l11.2,4.8M759.5,410.6l5.6,2.4M742.5,436.9L750.0,416.4M750.0,416.4l12.0,-1.9M748.6,420.1l12.0,-1.9M747.3,423.7l12.0,-1.9M733.5,441.6L741.0,421.1M741.0,421.1l12.0,-1.9M739.6,424.8l12.0,-1.9M716.5,450.0L725.7,430.2M725.7,430.2l12.2,-0.9M724.1,433.8l12.2,-0.9M722.4,437.3l6.1,-0.4M510.8,378.8L518.3,358.3M518.3,358.3l12.0,-1.9M516.9,362.0l12.0,-1.9M528.5,382.3L536.0,361.8M536.0,361.8l12.0,-1.9M534.6,365.5l12.0,-1.9M533.3,369.1l6.0,-1.0M540.9,396.5L548.4,376.0M548.4,376.0l12.0,-1.9M547.0,379.7l12.0,-1.9M545.7,383.3l6.0,-1.0M553.5,391.0L561.0,370.5M561.0,370.5l12.0,-1.9M559.6,374.2l12.0,-1.9M558.3,377.8l6.0,-1.0M515.3,396.5L522.8,376.0M522.8,376.0l12.0,-1.9M521.4,379.7l12.0,-1.9M476.5,403.0L484.0,382.5M484.0,382.5l12.0,-1.9M482.6,386.2l12.0,-1.9M481.3,389.8l12.0,-1.9M496.5,403.0L504.0,382.5M504.0,382.5l12.0,-1.9M502.6,386.2l12.0,-1.9M501.3,389.8l12.0,-1.9M486.5,409.0L494.0,388.5M494.0,388.5l12.0,-1.9M492.6,392.2l12.0,-1.9M491.3,395.8l12.0,-1.9M490.0,399.5l6.0,-1.0M501.5,411.0L509.0,390.5M509.0,390.5l12.0,-1.9M507.6,394.2l12.0,-1.9M506.3,397.8l12.0,-1.9M505.0,401.5l6.0,-1.0M470.1,418.6L477.6,398.1M477.6,398.1l12.0,-1.9M476.2,401.8l12.0,-1.9M474.9,405.4l12.0,-1.9M473.6,409.1l6.0,-1.0M493.1,423.0L500.6,402.5M500.6,402.5l12.0,-1.9M499.2,406.2l12.0,-1.9M497.9,409.8l6.0,-1.0M523.2,431.9L530.7,411.4M530.7,411.4l12.0,-1.9M529.3,415.1l12.0,-1.9M528.0,418.7l6.0,-1.0M546.2,417.7L553.7,397.2M553.7,397.2l12.0,-1.9M552.3,400.9l12.0,-1.9M551.0,404.5l6.0,-1.0M468.4,437.2L475.9,416.7M475.9,416.7l12.0,-1.9M474.5,420.4l12.0,-1.9M473.2,424.0l6.0,-1.0M493.1,450.5L500.6,430.0M500.6,430.0l12.0,-1.9M499.2,433.7l12.0,-1.9M516.5,451.0L524.0,430.5M524.0,430.5l12.0,-1.9M522.6,434.2l12.0,-1.9M521.3,437.8l6.0,-1.0M534.0,451.0L541.5,430.5M541.5,430.5l12.0,-1.9M540.1,434.2l12.0,-1.9M538.8,437.8l6.0,-1.0M540.9,440.7L548.4,420.2M548.4,420.2l12.0,-1.9M547.0,423.9l12.0,-1.9M545.7,427.5l6.0,-1.0M479.0,457.5L484.6,436.4M484.6,436.4l11.8,-3.0M483.6,440.2l11.8,-3.0M479.0,466.4L486.5,445.9M486.5,445.9l12.0,-1.9M485.1,449.6l12.0,-1.9M505.5,467.3L513.0,446.8M513.0,446.8l12.0,-1.9M511.6,450.5l12.0,-1.9M510.3,454.1l6.0,-1.0M578.7,445.8L586.2,425.3M586.2,425.3l12.0,-1.9M584.8,429.0l12.0,-1.9M583.5,432.6l6.0,-1.0M569.2,464.8L576.7,444.3M576.7,444.3l12.0,-1.9M575.3,448.0l12.0,-1.9M574.0,451.6l6.0,-1.0M574.5,464.8L582.0,444.3M582.0,444.3l12.0,-1.9M582.4,487.4L589.9,466.9M589.9,466.9l12.0,-1.9M588.5,470.6l12.0,-1.9M587.2,474.2l12.0,-1.9M585.8,504.8L599.2,487.6M599.2,487.6l12.0,1.9M596.8,490.7l12.0,1.9M594.4,493.8l12.0,1.9M592.0,496.8l6.0,1.0M591.4,499.6L598.9,479.1M598.9,479.1l12.0,-1.9M597.5,482.8l12.0,-1.9M596.2,486.4l12.0,-1.9M594.9,490.1l6.0,-1.0M569.0,517.3L569.0,495.5M569.0,495.5l10.7,-5.9M569.0,499.4l10.7,-5.9M569.0,503.3l5.3,-3.0M576.5,517.6L584.0,497.1M584.0,497.1l12.0,-1.9M582.6,500.8l6.0,-1.0M594.5,548.6L602.0,528.1M602.0,528.1l12.0,-1.9M600.6,531.8l12.0,-1.9M599.3,535.4l12.0,-1.9M630.9,529.6L638.4,509.1M638.4,509.1l12.0,-1.9M637.0,512.8l12.0,-1.9M635.7,516.4l12.0,-1.9M626.1,539.1L633.6,518.6M633.6,518.6l12.0,-1.9M632.2,522.3l12.0,-1.9M630.9,525.9l12.0,-1.9M641.9,485.3L649.4,464.8M649.4,464.8l12.0,-1.9M648.0,468.5l12.0,-1.9M646.7,472.1l6.0,-1.0M649.2,499.6L656.7,479.1M656.7,479.1l12.0,-1.9M655.3,482.8l12.0,-1.9M654.0,486.4l6.0,-1.0M646.0,505.0L653.5,484.5M653.5,484.5l12.0,-1.9M652.1,488.2l12.0,-1.9M650.8,491.8l12.0,-1.9M649.5,495.5l6.0,-1.0M662.5,521.7L670.0,501.2M670.0,501.2l12.0,-1.9M668.6,504.9l12.0,-1.9M667.3,508.5l12.0,-1.9M643.5,467.0L651.0,446.5M651.0,446.5l12.0,-1.9M649.6,450.2l12.0,-1.9M648.3,453.8l12.0,-1.9M676.7,467.0L694.6,454.5M694.6,454.5l11.0,5.3M691.4,456.7l11.0,5.3M688.2,459.0l5.5,2.7M618.2,455.3L625.7,434.8M625.7,434.8l12.0,-1.9M624.3,438.5l12.0,-1.9M630.9,437.3L632.8,415.6M632.8,415.6l11.1,-5.0M632.5,419.5l11.1,-5.0M632.1,423.4l5.6,-2.5M518.7,482.2L526.2,461.7M526.2,461.7l12.0,-1.9M524.8,465.4l12.0,-1.9M523.5,469.0l12.0,-1.9M537.6,482.2L545.1,461.7M545.1,461.7l12.0,-1.9M543.7,465.4l12.0,-1.9M542.4,469.0l6.0,-1.0M499.7,491.7L507.2,471.2M507.2,471.2l12.0,-1.9M505.8,474.9l12.0,-1.9M504.5,478.5l6.0,-1.0M488.7,509.1L490.6,487.4M490.6,487.4l11.1,-5.0M490.3,491.3l11.1,-5.0M502.9,509.1L510.4,488.6M510.4,488.6l12.0,-1.9M509.0,492.3l12.0,-1.9M507.7,495.9l6.0,-1.0M531.3,504.3L538.8,483.8M538.8,483.8l12.0,-1.9M537.4,487.5l12.0,-1.9M521.8,526.4L529.3,505.9M529.3,505.9l12.0,-1.9M527.9,509.6l12.0,-1.9M526.6,513.2l12.0,-1.9M515.5,558.0L523.0,537.5M523.0,537.5l12.0,-1.9M521.6,541.2l12.0,-1.9M452.3,491.7L453.4,469.9M453.4,469.9l11.0,-5.3M453.2,473.8l11.0,-5.3M453.0,477.7l11.0,-5.3M458.6,517.0L462.4,495.5M462.4,495.5l11.5,-4.0M461.7,499.4l11.5,-4.0M461.0,503.2l11.5,-4.0M460.2,531.2L464.0,509.7M464.0,509.7l11.5,-4.0M463.3,513.6l11.5,-4.0M462.6,517.4l11.5,-4.0M490.2,581.6L497.7,561.1M497.7,561.1l12.0,-1.9M496.3,564.8l12.0,-1.9M495.0,568.4l6.0,-1.0M469.7,586.4L477.2,565.9M477.2,565.9l12.0,-1.9M475.8,569.6l12.0,-1.9M474.5,573.2l6.0,-1.0M446.0,589.5L453.5,569.0M453.5,569.0l12.0,-1.9M452.1,572.7l12.0,-1.9M450.8,576.3l12.0,-1.9M449.5,580.0l6.0,-1.0M454.5,589.5L462.0,569.0M462.0,569.0l12.0,-1.9M460.6,572.7l12.0,-1.9M447.6,599.0L455.1,578.5M455.1,578.5l12.0,-1.9M453.7,582.2l12.0,-1.9M452.4,585.8l12.0,-1.9M506.0,598.0L510.9,576.8M510.9,576.8l11.7,-3.4M510.0,580.6l11.7,-3.4M509.1,584.4l5.9,-1.7M531.3,598.0L536.9,576.9M536.9,576.9l11.8,-3.0M535.9,580.7l11.8,-3.0M534.9,584.5l5.9,-1.5M483.9,607.5L491.4,587.0M491.4,587.0l12.0,-1.9M490.0,590.7l12.0,-1.9M488.7,594.3l6.0,-1.0M483.9,625.9L491.4,605.4M491.4,605.4l12.0,-1.9M490.0,609.1l12.0,-1.9M521.8,625.9L537.7,611.0M537.7,611.0l11.6,3.8M534.9,613.7l11.6,3.8M532.0,616.4l5.8,1.9M547.1,625.9L547.1,604.1M547.1,604.1l10.7,-5.9M547.1,608.0l10.7,-5.9M569.5,589.8L567.6,568.1M567.6,568.1l10.1,-6.8M567.9,572.0l10.1,-6.8M627.7,567.4L635.2,546.9M635.2,546.9l12.0,-1.9M633.8,550.6l12.0,-1.9M626.1,584.8L633.6,564.3M633.6,564.3l12.0,-1.9M632.2,568.0l12.0,-1.9M630.9,571.6l6.0,-1.0M487.1,666.0L467.0,657.5M467.0,657.5l-1.3,-12.1M470.6,659.0l-1.3,-12.1M474.2,660.5l-1.3,-12.1M463.0,679.6L445.4,666.8M445.4,666.8l1.5,-12.1M448.5,669.1l1.5,-12.1M290.8,481.6L281.9,461.7M281.9,461.7l7.3,-9.7M283.5,465.2l7.3,-9.7M365.0,521.6L372.5,501.1M372.5,501.1l12.0,-1.9M371.1,504.8l12.0,-1.9M369.8,508.4l6.0,-1.0M401.4,504.2L408.9,483.7M408.9,483.7l12.0,-1.9M407.5,487.4l12.0,-1.9M406.2,491.0l6.0,-1.0M429.8,485.2L441.4,466.7M441.4,466.7l12.2,0.6M439.3,470.0l12.2,0.6M437.2,473.3l6.1,0.3M325.5,526.3L338.0,508.4M338.0,508.4l12.1,1.3M335.8,511.6l12.1,1.3M333.5,514.8l12.1,1.3M331.3,518.0l12.1,1.3M311.0,572.3L305.0,551.3M305.0,551.3l8.6,-8.6M306.1,555.1l8.6,-8.6M307.1,558.8l8.6,-8.6M308.2,562.6l8.6,-8.6M309.3,566.3l4.3,-4.3M384.0,545.3L391.5,524.8M391.5,524.8l12.0,-1.9M390.1,528.5l12.0,-1.9M388.8,532.1l6.0,-1.0M374.5,557.9L382.0,537.4M382.0,537.4l12.0,-1.9M380.6,541.1l12.0,-1.9M379.3,544.7l12.0,-1.9M374.5,576.9L382.0,556.4M382.0,556.4l12.0,-1.9M380.6,560.1l12.0,-1.9M379.3,563.7l12.0,-1.9M398.2,572.1L405.7,551.6M405.7,551.6l12.0,-1.9M404.3,555.3l12.0,-1.9M437.7,553.2L434.7,531.6M434.7,531.6l9.7,-7.3M435.2,535.5l9.7,-7.3M435.8,539.3l9.7,-7.3M418.8,611.6L401.2,598.8M401.2,598.8l1.5,-12.1M404.3,601.1l1.5,-12.1M407.5,603.4l1.5,-12.1M432.5,387.9L440.0,367.4M440.0,367.4l12.0,-1.9M438.6,371.1l12.0,-1.9M437.3,374.7l6.0,-1.0M432.5,405.3L418.8,388.4M418.8,388.4l4.6,-11.3M421.2,391.4l4.6,-11.3M423.7,394.4l4.6,-11.3M421.5,413.0L429.0,392.5M429.0,392.5l12.0,-1.9M427.6,396.2l12.0,-1.9M426.3,399.8l12.0,-1.9M425.0,403.5l6.0,-1.0M436.5,413.0L444.0,392.5M444.0,392.5l12.0,-1.9M442.6,396.2l12.0,-1.9M441.3,399.8l12.0,-1.9M448.5,413.0L456.0,392.5M456.0,392.5l12.0,-1.9M454.6,396.2l12.0,-1.9M453.3,399.8l12.0,-1.9M416.7,427.4L424.2,406.9M424.2,406.9l12.0,-1.9M422.8,410.6l12.0,-1.9M421.5,414.2l12.0,-1.9M442.0,429.6L449.5,409.1M449.5,409.1l12.0,-1.9M448.1,412.8l12.0,-1.9M446.8,416.4l6.0,-1.0M400.9,435.3L408.4,414.8M408.4,414.8l12.0,-1.9M407.0,418.5l12.0,-1.9M405.7,422.1l12.0,-1.9M380.3,448.6L387.8,428.1M387.8,428.1l12.0,-1.9M386.4,431.8l12.0,-1.9M385.1,435.4l12.0,-1.9M383.8,439.1l6.0,-1.0M404.0,450.5L411.5,430.0M411.5,430.0l12.0,-1.9M410.1,433.7l12.0,-1.9M408.8,437.3l12.0,-1.9M380.3,466.9L387.8,446.4M387.8,446.4l12.0,-1.9M386.4,450.1l12.0,-1.9M385.1,453.7l6.0,-1.0M388.2,473.2L395.7,452.7M395.7,452.7l12.0,-1.9M394.3,456.4l12.0,-1.9M393.0,460.0l12.0,-1.9M391.7,463.7l6.0,-1.0M715.5,473.2L723.0,452.7M723.0,452.7l12.0,-1.9M721.6,456.4l12.0,-1.9M720.3,460.0l12.0,-1.9M693.4,485.8L700.9,465.3M700.9,465.3l12.0,-1.9M699.5,469.0l12.0,-1.9M698.2,472.6l12.0,-1.9M717.1,504.8L724.6,484.3M724.6,484.3l12.0,-1.9M723.2,488.0l12.0,-1.9M721.9,491.6l12.0,-1.9M715.5,517.5L723.0,497.0M723.0,497.0l12.0,-1.9M721.6,500.7l12.0,-1.9M720.3,504.3l12.0,-1.9M688.7,525.3L696.2,504.8M696.2,504.8l12.0,-1.9M694.8,508.5l12.0,-1.9M693.5,512.1l12.0,-1.9M692.2,515.8l12.0,-1.9" fill="none" stroke="#0000ff" stroke-width="1.8" stroke-linecap="round"/>
<text class="v" x="427.8" y="153.9" text-anchor="middle">10.4</text>
<text class="v" x="482.2" y="150.8" text-anchor="middle">15.7</text>
<text class="v" x="521.7" y="158.7" text-anchor="middle">15.2</text>
<text class="v" x="494.8" y="167.6" text-anchor="middle">10.0</text>
<text class="v" x="423.7" y="180.9" text-anchor="middle">11.1</text>
<text class="v" x="509.0" y="176.1" text-anchor="middle">11.7</text>
<text class="v" x="558.0" y="171.4" text-anchor="middle">12.7</text>
<text class="v" x="586.5" y="167.3" text-anchor="middle">16.3</text>
<text class="v" x="463.2" y="195.1" text-anchor="middle">12.4</text>
<text class="v" x="540.6" y="189.7" text-anchor="middle">14.1</text>
<text class="v" x="573.2" y="189.7" text-anchor="middle">13.5</text>
<text class="v" x="496.4" y="207.7" text-anchor="middle">9.9</text>
<text class="v" x="529.6" y="204.6" text-anchor="middle">12.9</text>
<text class="v" x="551.1" y="207.7" text-anchor="middle">9.7</text>
<text class="v" x="477.4" y="216.3" text-anchor="middle">6.9</text>
<text class="v" x="504.3" y="216.3" text-anchor="middle">11.5</text>
<text class="v" x="531.2" y="220.4" text-anchor="middle">11.7</text>
<text class="v" x="586.5" y="208.0" text-anchor="middle">14.1</text>
<text class="v" x="608.7" y="208.0" text-anchor="middle">12.4</text>
<text class="v" x="582.2" y="217.0" text-anchor="middle">12.7</text>
<text class="v" x="600.0" y="212.5" text-anchor="middle">12.9</text>
<text class="v" x="616.5" y="217.0" text-anchor="middle">12.8</text>
<text class="v" x="480.6" y="244.1" text-anchor="middle">11.6</text>
<text class="v" x="584.9" y="234.6" text-anchor="middle">12.9</text>
<text class="v" x="558.0" y="252.9" text-anchor="middle">14.1</text>
<text class="v" x="521.7" y="261.4" text-anchor="middle">13.7</text>
<text class="v" x="586.5" y="275.7" text-anchor="middle">9.9</text>
<text class="v" x="512.2" y="275.7" text-anchor="middle">12.5</text>
<text class="v" x="548.5" y="293.7" text-anchor="middle">13.6</text>
<text class="v" x="640.2" y="289.0" text-anchor="middle">9.4</text>
<text class="v" x="526.4" y="311.4" text-anchor="middle">10.3</text>
<text class="v" x="602.3" y="306.6" text-anchor="middle">10.0</text>
<text class="v" x="516.9" y="330.0" text-anchor="middle">12.4</text>
<text class="v" x="589.6" y="319.9" text-anchor="middle">12.8</text>
<text class="v" x="598.5" y="325.0" text-anchor="middle">10.7</text>
<text class="v" x="523.3" y="342.7" text-anchor="middle">8.2</text>
<text class="v" x="594.4" y="342.7" text-anchor="middle">9.7</text>
<text class="v" x="675.0" y="261.9" text-anchor="middle">10.8</text>
<text class="v" x="690.2" y="307.4" text-anchor="middle">12.5</text>
<text class="v" x="648.2" y="320.4" text-anchor="middle">11.5</text>
<text class="v" x="676.0" y="316.9" text-anchor="middle">9.5</text>
<text class="v" x="733.8" y="288.4" text-anchor="middle">12.2</text>
<text class="v" x="743.3" y="319.7" text-anchor="middle">14.4</text>
<text class="v" x="719.6" y="329.2" text-anchor="middle">12.2</text>
<text class="v" x="748.0" y="337.8" text-anchor="middle">9.8</text>
<text class="v" x="770.0" y="338.5" text-anchor="middle">11.3</text>
<text class="v" x="728.1" y="351.0" text-anchor="middle">10.3</text>
<text class="v" x="773.6" y="307.5" text-anchor="middle">10.2</text>
<text class="v" x="782.5" y="329.6" text-anchor="middle">13.0</text>
<text class="v" x="806.4" y="329.6" text-anchor="middle">12.4</text>
<text class="v" x="773.6" y="356.2" text-anchor="middle">11.9</text>
<text class="v" x="823.2" y="361.5" text-anchor="middle">14.6</text>
<text class="v" x="748.0" y="374.1" text-anchor="middle">12.9</text>
<text class="v" x="756.0" y="387.0" text-anchor="middle">11.0</text>
<text class="v" x="700.6" y="374.1" text-anchor="middle">10.8</text>
<text class="v" x="688.0" y="356.7" text-anchor="middle">12.3</text>
<text class="v" x="651.6" y="378.2" text-anchor="middle">14.9</text>
<text class="v" x="639.0" y="361.4" text-anchor="middle">12.8</text>
<text class="v" x="688.0" y="387.7" text-anchor="middle">11.4</text>
<text class="v" x="626.0" y="357.5" text-anchor="middle">11.1</text>
<text class="v" x="571.2" y="360.3" text-anchor="middle">14.4</text>
<text class="v" x="572.7" y="370.4" text-anchor="middle">6.1</text>
<text class="v" x="607.5" y="374.5" text-anchor="middle">13.5</text>
<text class="v" x="593.9" y="397.3" text-anchor="middle">11.9</text>
<text class="v" x="626.5" y="401.4" text-anchor="middle">15.8</text>
<text class="v" x="617.0" y="410.9" text-anchor="middle">15.1</text>
<text class="v" x="593.9" y="419.7" text-anchor="middle">12.4</text>
<text class="v" x="617.0" y="419.7" text-anchor="middle">14.6</text>
<text class="v" x="643.0" y="414.0" text-anchor="middle">10.6</text>
<text class="v" x="661.0" y="409.5" text-anchor="middle">10.6</text>
<text class="v" x="676.0" y="409.5" text-anchor="middle">6.7</text>
<text class="v" x="676.5" y="423.0" text-anchor="middle">10.7</text>
<text class="v" x="696.5" y="423.0" text-anchor="middle">10.4</text>
<text class="v" x="656.0" y="423.0" text-anchor="middle">9.1</text>
<text class="v" x="657.0" y="432.5" text-anchor="middle">10.0</text>
<text class="v" x="675.0" y="441.4" text-anchor="middle">10.9</text>
<text class="v" x="685.0" y="441.4" text-anchor="middle">9.7</text>
<text class="v" x="695.0" y="441.4" text-anchor="middle">10.2</text>
<text class="v" x="705.0" y="441.4" text-anchor="middle">12.1</text>
<text class="v" x="737.0" y="433.2" text-anchor="middle">8.1</text>
<text class="v" x="752.0" y="433.2" text-anchor="middle">10.8</text>
<text class="v" x="746.0" y="450.9" text-anchor="middle">11.9</text>
<text class="v" x="737.0" y="455.6" text-anchor="middle">8.7</text>
<text class="v" x="720.0" y="464.0" text-anchor="middle">10.1</text>
<text class="v" x="514.3" y="392.8" text-anchor="middle">8.5</text>
<text class="v" x="532.0" y="396.3" text-anchor="middle">9.3</text>
<text class="v" x="544.4" y="410.5" text-anchor="middle">10.6</text>
<text class="v" x="557.0" y="405.0" text-anchor="middle">9.6</text>
<text class="v" x="518.8" y="410.5" text-anchor="middle">7.5</text>
<text class="v" x="480.0" y="417.0" text-anchor="middle">12.2</text>
<text class="v" x="500.0" y="417.0" text-anchor="middle">12.9</text>
<text class="v" x="490.0" y="423.0" text-anchor="middle">13.1</text>
<text class="v" x="505.0" y="425.0" text-anchor="middle">14.1</text>
<text class="v" x="473.6" y="432.6" text-anchor="middle">13.5</text>
<text class="v" x="496.6" y="437.0" text-anchor="middle">9.5</text>
<text class="v" x="526.7" y="445.9" text-anchor="middle">10.3</text>
<text class="v" x="549.7" y="431.7" text-anchor="middle">9.3</text>
<text class="v" x="471.9" y="451.2" text-anchor="middle">10.7</text>
<text class="v" x="496.6" y="464.5" text-anchor="middle">8.9</text>
<text class="v" x="520.0" y="465.0" text-anchor="middle">9.6</text>
<text class="v" x="537.5" y="465.0" text-anchor="middle">9.7</text>
<text class="v" x="544.4" y="454.7" text-anchor="middle">9.2</text>
<text class="v" x="482.5" y="471.5" text-anchor="middle">8.6</text>
<text class="v" x="482.5" y="480.4" text-anchor="middle">8.3</text>
<text class="v" x="509.0" y="481.3" text-anchor="middle">10.1</text>
<text class="v" x="582.2" y="459.8" text-anchor="middle">9.1</text>
<text class="v" x="572.7" y="478.8" text-anchor="middle">9.2</text>
<text class="v" x="578.0" y="478.8" text-anchor="middle">4.0</text>
<text class="v" x="585.9" y="501.4" text-anchor="middle">12.2</text>
<text class="v" x="589.3" y="518.8" text-anchor="middle">13.7</text>
<text class="v" x="594.9" y="513.6" text-anchor="middle">13.8</text>
<text class="v" x="572.5" y="531.3" text-anchor="middle">9.3</text>
<text class="v" x="580.0" y="531.6" text-anchor="middle">6.9</text>
<text class="v" x="598.0" y="562.6" text-anchor="middle">12.3</text>
<text class="v" x="634.4" y="543.6" text-anchor="middle">12.1</text>
<text class="v" x="629.6" y="553.1" text-anchor="middle">11.6</text>
<text class="v" x="645.4" y="499.3" text-anchor="middle">9.2</text>
<text class="v" x="652.7" y="513.6" text-anchor="middle">10.5</text>
<text class="v" x="649.5" y="519.0" text-anchor="middle">13.1</text>
<text class="v" x="666.0" y="535.7" text-anchor="middle">11.8</text>
<text class="v" x="647.0" y="481.0" text-anchor="middle">11.2</text>
<text class="v" x="680.2" y="481.0" text-anchor="middle">9.3</text>
<text class="v" x="621.7" y="469.3" text-anchor="middle">8.9</text>
<text class="v" x="634.4" y="451.3" text-anchor="middle">9.6</text>
<text class="v" x="522.2" y="496.2" text-anchor="middle">12.1</text>
<text class="v" x="541.1" y="496.2" text-anchor="middle">10.1</text>
<text class="v" x="503.2" y="505.7" text-anchor="middle">10.2</text>
<text class="v" x="492.2" y="523.1" text-anchor="middle">9.0</text>
<text class="v" x="506.4" y="523.1" text-anchor="middle">9.2</text>
<text class="v" x="534.8" y="518.3" text-anchor="middle">9.0</text>
<text class="v" x="525.3" y="540.4" text-anchor="middle">11.4</text>
<text class="v" x="519.0" y="572.0" text-anchor="middle">8.7</text>
<text class="v" x="455.8" y="505.7" text-anchor="middle">12.6</text>
<text class="v" x="462.1" y="531.0" text-anchor="middle">11.4</text>
<text class="v" x="463.7" y="545.2" text-anchor="middle">11.3</text>
<text class="v" x="493.7" y="595.6" text-anchor="middle">10.9</text>
<text class="v" x="473.2" y="600.4" text-anchor="middle">10.6</text>
<text class="v" x="449.5" y="603.5" text-anchor="middle">13.7</text>
<text class="v" x="458.0" y="603.5" text-anchor="middle">7.5</text>
<text class="v" x="451.1" y="613.0" text-anchor="middle">11.3</text>
<text class="v" x="509.5" y="612.0" text-anchor="middle">9.1</text>
<text class="v" x="534.8" y="612.0" text-anchor="middle">10.7</text>
<text class="v" x="487.4" y="621.5" text-anchor="middle">9.7</text>
<text class="v" x="487.4" y="639.9" text-anchor="middle">7.1</text>
<text class="v" x="525.3" y="639.9" text-anchor="middle">10.1</text>
<text class="v" x="550.6" y="639.9" text-anchor="middle">8.5</text>
<text class="v" x="573.0" y="603.8" text-anchor="middle">8.8</text>
<text class="v" x="631.2" y="581.4" text-anchor="middle">8.6</text>
<text class="v" x="629.6" y="598.8" text-anchor="middle">10.3</text>
<text class="v" x="490.6" y="680.0" text-anchor="middle">12.3</text>
<text class="v" x="466.5" y="693.6" text-anchor="middle">7.2</text>
<text class="v" x="294.3" y="495.6" text-anchor="middle">8.0</text>
<text class="v" x="368.5" y="535.6" text-anchor="middle">10.8</text>
<text class="v" x="404.9" y="518.2" text-anchor="middle">10.6</text>
<text class="v" x="433.3" y="499.2" text-anchor="middle">9.5</text>
<text class="v" x="329.0" y="540.3" text-anchor="middle">16.0</text>
<text class="v" x="314.5" y="586.3" text-anchor="middle">18.1</text>
<text class="v" x="387.5" y="559.3" text-anchor="middle">10.5</text>
<text class="v" x="378.0" y="571.9" text-anchor="middle">12.3</text>
<text class="v" x="378.0" y="590.9" text-anchor="middle">11.8</text>
<text class="v" x="401.7" y="586.1" text-anchor="middle">8.3</text>
<text class="v" x="441.2" y="567.2" text-anchor="middle">11.1</text>
<text class="v" x="422.3" y="625.6" text-anchor="middle">11.1</text>
<text class="v" x="436.0" y="401.9" text-anchor="middle">10.0</text>
<text class="v" x="436.0" y="419.3" text-anchor="middle">12.8</text>
<text class="v" x="425.0" y="427.0" text-anchor="middle">13.2</text>
<text class="v" x="440.0" y="427.0" text-anchor="middle">12.8</text>
<text class="v" x="452.0" y="427.0" text-anchor="middle">11.3</text>
<text class="v" x="420.2" y="441.4" text-anchor="middle">12.6</text>
<text class="v" x="445.5" y="443.6" text-anchor="middle">10.7</text>
<text class="v" x="404.4" y="449.3" text-anchor="middle">12.4</text>
<text class="v" x="383.8" y="462.6" text-anchor="middle">14.9</text>
<text class="v" x="407.5" y="464.5" text-anchor="middle">11.6</text>
<text class="v" x="383.8" y="480.9" text-anchor="middle">9.8</text>
<text class="v" x="391.7" y="487.2" text-anchor="middle">13.8</text>
<text class="v" x="719.0" y="487.2" text-anchor="middle">11.4</text>
<text class="v" x="696.9" y="499.8" text-anchor="middle">11.6</text>
<text class="v" x="720.6" y="518.8" text-anchor="middle">12.9</text>
<text class="v" x="719.0" y="531.5" text-anchor="middle">12.6</text>
<text class="v" x="692.2" y="539.3" text-anchor="middle">15.6</text>
<text class="cn" x="530" y="231.0" text-anchor="middle">张家港</text>
<text class="cn" x="607" y="332.5" text-anchor="middle">常熟</text>
<text class="cn" x="760" y="385.5" text-anchor="middle">太仓</text>
<text class="cn" x="715" y="433.0" text-anchor="middle">昆山</text>
<text class="cn" x="513" y="428.5" text-anchor="middle">苏州</text>
<text class="cn" x="544" y="553.5" text-anchor="middle">吴江</text>
<text class="cn" x="455" y="580.5" text-anchor="middle">东山</text><rect x="71" y="24" width="838" height="730" fill="none" stroke="#000" stroke-width="2"/>
<line x1="65" y1="49.0" x2="70" y2="49.0" stroke="#000" stroke-width="2"/>
<text class="ax" transform="translate(56.5,55.5) scale(1,1.13)" text-anchor="end">32.2° N</text>
<line x1="65" y1="139.1" x2="70" y2="139.1" stroke="#000" stroke-width="2"/>
<text class="ax" transform="translate(56.5,145.6) scale(1,1.13)" text-anchor="end">32° N</text>
<line x1="65" y1="229.3" x2="70" y2="229.3" stroke="#000" stroke-width="2"/>
<text class="ax" transform="translate(56.5,235.8) scale(1,1.13)" text-anchor="end">31.8° N</text>
<line x1="65" y1="319.4" x2="70" y2="319.4" stroke="#000" stroke-width="2"/>
<text class="ax" transform="translate(56.5,325.9) scale(1,1.13)" text-anchor="end">31.6° N</text>
<line x1="65" y1="409.6" x2="70" y2="409.6" stroke="#000" stroke-width="2"/>
<text class="ax" transform="translate(56.5,416.1) scale(1,1.13)" text-anchor="end">31.4° N</text>
<line x1="65" y1="499.7" x2="70" y2="499.7" stroke="#000" stroke-width="2"/>
<text class="ax" transform="translate(56.5,506.2) scale(1,1.13)" text-anchor="end">31.2° N</text>
<line x1="65" y1="589.8" x2="70" y2="589.8" stroke="#000" stroke-width="2"/>
<text class="ax" transform="translate(56.5,596.3) scale(1,1.13)" text-anchor="end">31° N</text>
<line x1="65" y1="680.0" x2="70" y2="680.0" stroke="#000" stroke-width="2"/>
<text class="ax" transform="translate(56.5,686.5) scale(1,1.13)" text-anchor="end">30.8° N</text>
<line x1="154.0" y1="755" x2="154.0" y2="761" stroke="#000" stroke-width="2"/>
<text class="ax" letter-spacing="0.5" transform="translate(150.0,777.5) scale(1,1.13)" text-anchor="middle">119.8° E</text>
<line x1="244.1" y1="755" x2="244.1" y2="761" stroke="#000" stroke-width="2"/>
<text class="ax" letter-spacing="0.5" transform="translate(240.1,777.5) scale(1,1.13)" text-anchor="middle">120° E</text>
<line x1="334.2" y1="755" x2="334.2" y2="761" stroke="#000" stroke-width="2"/>
<text class="ax" letter-spacing="1.2" transform="translate(330.2,777.5) scale(1,1.13)" text-anchor="middle">120.2°E</text>
<line x1="424.4" y1="755" x2="424.4" y2="761" stroke="#000" stroke-width="2"/>
<text class="ax" letter-spacing="1.2" transform="translate(420.4,777.5) scale(1,1.13)" text-anchor="middle">120.4°E</text>
<line x1="514.5" y1="755" x2="514.5" y2="761" stroke="#000" stroke-width="2"/>
<text class="ax" letter-spacing="0.5" transform="translate(510.5,777.5) scale(1,1.13)" text-anchor="middle">120.6° E</text>
<line x1="604.6" y1="755" x2="604.6" y2="761" stroke="#000" stroke-width="2"/>
<text class="ax" letter-spacing="1.2" transform="translate(600.6,777.5) scale(1,1.13)" text-anchor="middle">120.8°E</text>
<line x1="694.7" y1="755" x2="694.7" y2="761" stroke="#000" stroke-width="2"/>
<text class="ax" letter-spacing="0.5" transform="translate(690.7,777.5) scale(1,1.13)" text-anchor="middle">121° E</text>
<line x1="784.8" y1="755" x2="784.8" y2="761" stroke="#000" stroke-width="2"/>
<text class="ax" letter-spacing="1.2" transform="translate(780.8,777.5) scale(1,1.13)" text-anchor="middle">121.2°E</text>
<line x1="875.0" y1="755" x2="875.0" y2="761" stroke="#000" stroke-width="2"/>
<text class="ax" letter-spacing="1.2" transform="translate(871.0,777.5) scale(1,1.13)" text-anchor="middle">121.4°E</text>
<text class="t1" x="478" y="57" text-anchor="middle">苏州市极大风实况(m/s)</text>
<text class="t2" x="478" y="84" text-anchor="middle">10月17日20时-10月18日8时</text>
<rect x="77.5" y="347.60" width="24.5" height="34.55" fill="#8c0096" stroke="#555" stroke-width="1"/>
<rect x="77.5" y="382.15" width="24.5" height="34.55" fill="#ff0080" stroke="#555" stroke-width="1"/>
<rect x="77.5" y="416.70" width="24.5" height="34.55" fill="#c00000" stroke="#555" stroke-width="1"/>
<rect x="77.5" y="451.25" width="24.5" height="34.55" fill="#ff5500" stroke="#555" stroke-width="1"/>
<rect x="77.5" y="485.80" width="24.5" height="34.55" fill="#ffbf00" stroke="#555" stroke-width="1"/>
<rect x="77.5" y="520.35" width="24.5" height="34.55" fill="#ffff00" stroke="#555" stroke-width="1"/>
<rect x="77.5" y="554.90" width="24.5" height="34.55" fill="#99ff77" stroke="#555" stroke-width="1"/>
<rect x="77.5" y="589.45" width="24.5" height="34.55" fill="#3a961e" stroke="#555" stroke-width="1"/>
<rect x="77.5" y="624.00" width="24.5" height="34.55" fill="#3aa8f5" stroke="#555" stroke-width="1"/>
<rect x="77.5" y="658.55" width="24.5" height="34.55" fill="#00e8ff" stroke="#555" stroke-width="1"/>
<rect x="77.5" y="693.10" width="24.5" height="34.55" fill="#ffffff" stroke="#aaa" stroke-width="1"/>
<text class="lg" x="110" y="392.2">46.2</text>
<text class="lg2" x="156" y="392.2">(15级)</text>
<text class="lg" x="110" y="426.7">41.5</text>
<text class="lg2" x="156" y="426.7">(14级)</text>
<text class="lg" x="110" y="461.2">37</text>
<text class="lg2" x="156" y="461.2">(13级)</text>
<text class="lg" x="110" y="495.8">32.7</text>
<text class="lg2" x="156" y="495.8">(12级)</text>
<text class="lg" x="110" y="530.4">28.5</text>
<text class="lg2" x="156" y="530.4">(11级)</text>
<text class="lg" x="110" y="564.9">24.5</text>
<text class="lg2" x="156" y="564.9">(10级)</text>
<text class="lg" x="110" y="599.5">20.8</text>
<text class="lg2" x="156" y="599.5">(9级)</text>
<text class="lg" x="110" y="634.0">17.2</text>
<text class="lg2" x="156" y="634.0">(8级)</text>
<text class="lg" x="110" y="668.5">13.9</text>
<text class="lg2" x="156" y="668.5">(7级)</text>
<text class="lg" x="110" y="703.1">10.8</text>
<text class="lg2" x="156" y="703.1">(6级)</text></svg>
</body></html>
